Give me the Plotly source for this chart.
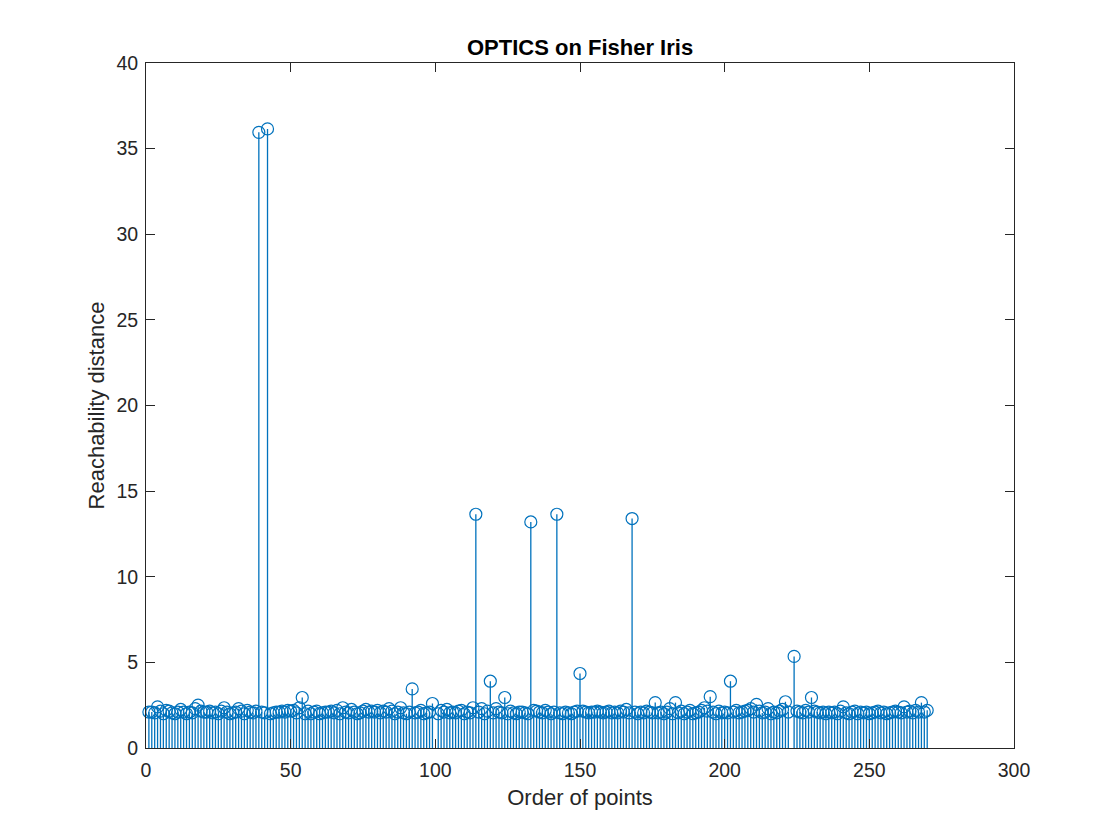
import plotly.graph_objects as go

reach = [
    2.1,2.1,2.05,2.4,2.15,2.0,2.2,2.15,2.05,2.0,
    2.1,2.25,2.1,2.0,2.1,2.05,2.3,2.5,2.15,2.1,
    2.1,2.15,2.05,2.1,2.0,2.15,2.35,2.1,2.0,2.05,
    2.1,2.3,2.15,2.0,2.2,2.1,2.05,2.15,35.95,2.1,
    2.05,36.15,2.0,2.05,2.1,2.1,2.15,2.1,2.2,2.15,
    2.2,2.05,2.35,2.95,2.0,2.15,2.0,2.1,2.15,2.0,
    2.05,2.1,2.1,2.15,2.05,2.2,2.0,2.35,2.1,2.05,
    2.25,2.1,2.0,2.05,2.15,2.25,2.1,2.15,2.1,2.2,
    2.05,2.15,2.1,2.3,2.15,2.0,2.1,2.35,2.05,2.0,
    2.1,3.45,2.05,2.1,2.2,2.0,2.05,2.1,2.6,None,
    2.0,2.2,2.1,2.25,2.05,2.1,2.05,2.15,2.2,2.0,
    2.1,2.05,2.35,13.65,2.1,2.3,2.0,2.15,3.9,2.05,
    2.3,2.1,2.05,2.95,2.0,2.15,2.05,2.0,2.1,2.1,
    2.05,2.0,13.2,2.2,2.15,2.1,2.05,2.2,2.1,2.0,
    2.1,13.65,2.05,2.0,2.1,2.05,2.0,2.1,2.15,4.35,
    2.15,2.1,2.05,2.1,2.1,2.15,2.1,2.05,2.1,2.15,
    2.05,2.1,2.05,2.15,2.1,2.25,2.05,13.4,2.1,2.0,
    2.1,2.05,2.15,2.1,2.05,2.65,2.05,2.1,2.0,2.1,
    2.3,2.0,2.65,2.05,2.15,2.0,2.1,2.2,2.0,2.05,
    2.1,2.2,2.35,2.15,3.0,2.1,2.0,2.15,2.05,2.1,
    2.05,3.9,2.1,2.2,2.05,2.1,2.15,2.2,2.3,2.1,
    2.55,2.15,2.05,2.1,2.3,2.0,2.1,2.05,2.15,2.25,
    2.7,2.1,None,5.35,2.15,2.1,2.05,2.2,2.1,2.95,
    2.15,2.1,2.05,2.1,2.0,2.1,2.05,2.1,2.0,2.15,
    2.4,2.05,2.0,2.1,2.15,2.0,2.1,2.05,2.1,2.0,
    2.05,2.1,2.15,2.05,2.1,2.0,2.05,2.1,2.15,2.1,
    2.05,2.4,2.1,2.15,2.05,2.2,2.1,2.65,2.1,2.2,
]
order = list(range(1, len(reach) + 1))
x_ticks = [0, 50, 100, 150, 200, 250, 300]
y_ticks = [0, 5, 10, 15, 20, 25, 30, 35, 40]

BLUE = "#0072BD"
FONT = "Liberation Sans"
INK = "#262626"

fig = go.Figure(go.Scatter(
    x=order, y=reach, mode="markers",
    marker=dict(symbol="circle-open", size=12, color=BLUE, line=dict(width=1.2, color=BLUE)),
    error_y=dict(type="data", symmetric=False,
                 array=[0] * len(reach),
                 arrayminus=[v if v is not None else 0 for v in reach],
                 color=BLUE, thickness=1.3, width=0),
    cliponaxis=False,
))
axis = dict(showgrid=False, zeroline=False, showline=True, linecolor=INK, linewidth=1,
            mirror="ticks", ticks="inside", ticklen=9, tickwidth=1, tickcolor=INK,
            tickfont=dict(family=FONT, size=19.5, color=INK))
fig.update_xaxes(range=[0, 300], tickvals=x_ticks, ticklabelstandoff=5,
                 title=dict(text="Order of points", standoff=9, font=dict(family=FONT, size=22, color=INK)), **axis)
fig.update_yaxes(range=[0, 40], tickvals=y_ticks, ticklabelstandoff=3,
                 title=dict(text="Reachability distance", standoff=5, font=dict(family=FONT, size=22, color=INK)), **axis)
fig.update_layout(
    width=1120, height=840, showlegend=False,
    paper_bgcolor="white", plot_bgcolor="white",
    margin=dict(l=146, r=106, t=63, b=92, autoexpand=False),
    title=dict(text="<b>OPTICS on Fisher Iris</b>", x=0.5179, xanchor="center",
               y=0.944, yanchor="middle", font=dict(family=FONT, size=22, color="black")),
)
fig.write_html("out.html", config=dict(displayModeBar=False),
               post_script="document.body.style.margin='0';")
